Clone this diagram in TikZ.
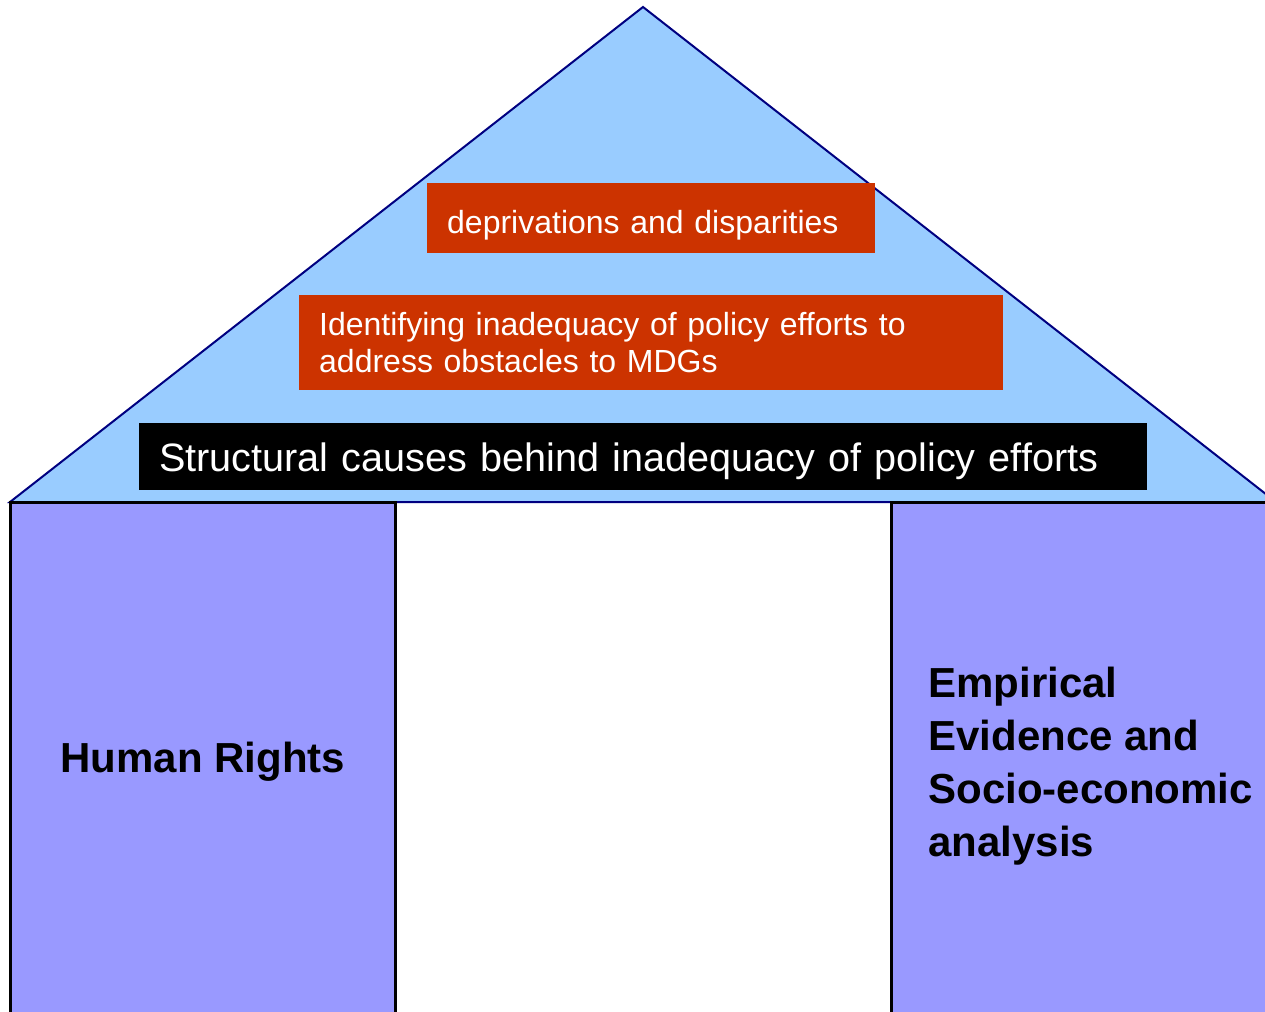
\documentclass[tikz,border=0pt]{standalone}
\usepackage{fontspec}
\setmainfont{Liberation Sans}
\definecolor{roofblue}{RGB}{153, 204, 255}
\definecolor{pillarblue}{RGB}{153, 153, 255}
\definecolor{roofline}{RGB}{0, 0, 128}
\definecolor{boxred}{RGB}{204, 51, 0}
\usetikzlibrary{positioning}

\begin{document}
\begin{tikzpicture}[x=1pt, y=-1pt,
  redbox/.style={fill=boxred, text=white, anchor=north west, inner xsep=20pt,
                 inner ysep=0pt, align=left,
                 font=\fontsize{32}{37}\selectfont},
  blackbox/.style={fill=black, text=white, anchor=north west, inner xsep=20pt,
                   inner ysep=0pt, text depth=0pt, align=left,
                   font=\fontsize{39.6}{46}\selectfont},
  pillar/.style={draw=black, line width=3pt, fill=pillarblue},
  pillartext/.style={font=\fontsize{42}{53}\selectfont\bfseries, align=left},
]
\useasboundingbox (0, 0) rectangle (1265, 1011);
\clip (0, 0) rectangle (1265, 1011);

% Roof
\draw[fill=roofblue, draw=roofline, line width=2pt]
  (10, 502) -- (643, 7) -- (1276, 502) -- cycle;

% Pillars
\draw[pillar] (10, 502) rectangle (395, 1040);
\draw[pillar] (891, 502) rectangle (1300, 1040);

% Roof boxes
\node[redbox, minimum height=70, text width=408, text height=31pt, text depth=0pt] (depriv)
  at (427, 183) {deprivations and disparities};
\node[redbox, minimum height=95, text width=664] (policy)
  at (299, 295) {Identifying inadequacy of policy efforts to\\
  address obstacles to MDGs};
\node[blackbox, minimum height=67, text width=968] (causes)
  at (139, 423) {Structural causes behind inadequacy of policy efforts};

% Pillar labels
\node[pillartext] (rights) at (203, 762) {Human Rights};
\node[pillartext, anchor=west] (evidence) at (925, 766)
  {Empirical\\Evidence and\\Socio-economic\\analysis};
\end{tikzpicture}
\end{document}
